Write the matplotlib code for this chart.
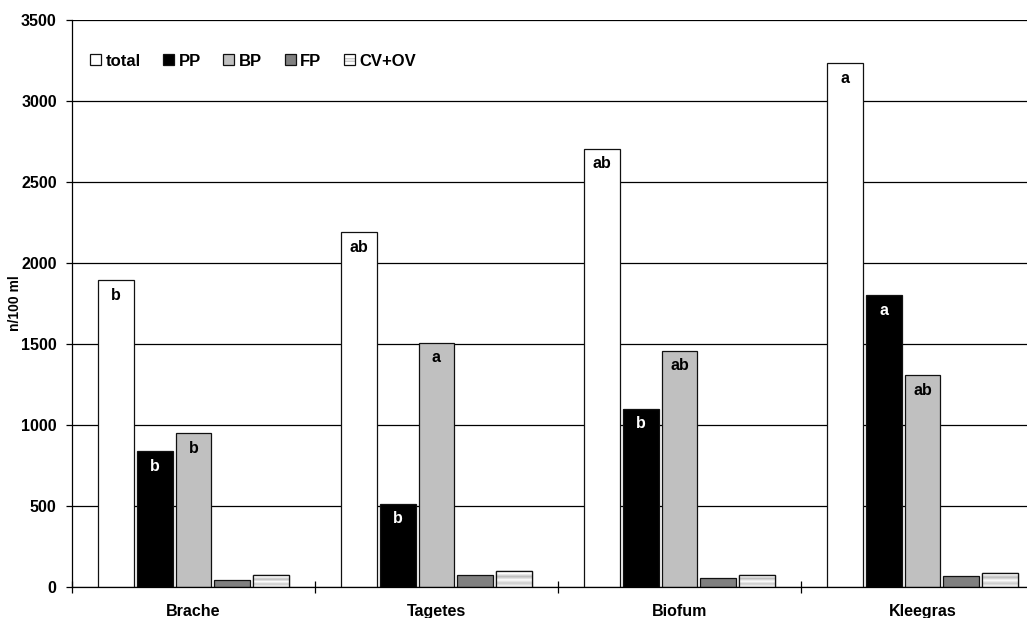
import numpy as np
import matplotlib
matplotlib.use("Agg")
import matplotlib.pyplot as plt
from matplotlib.patches import Rectangle
from matplotlib.legend_handler import HandlerBase

plt.rcParams['font.family'] = ['Liberation Sans', 'DejaVu Sans']
plt.rcParams['font.weight'] = 'bold'

categories = ["Brache", "Tagetes", "Biofum", "Kleegras"]
series_names = ["total", "PP", "BP", "FP", "CV+OV"]
total = [1893, 2189, 2705, 3235]
pp = [840, 514, 1101, 1800]
bp = [950, 1508, 1459, 1307]
fp = [41, 72, 54, 66]
cv_ov = [72, 97, 76, 88]
labels_total = ["b", "ab", "ab", "a"]
labels_pp = ["b", "b", "b", "a"]
labels_bp = ["b", "a", "ab", "ab"]
yticks = [0, 500, 1000, 1500, 2000, 2500, 3000, 3500]

W, H = 1027, 618
fig = plt.figure(figsize=(W / 100, H / 100), dpi=100)
ax = fig.add_axes([72 / W, 1 - 587 / H, 972 / W, 567 / H])

pitch = 0.159
width = 0.146
colors = ["white", "black", "#C0C0C0", "#808080", "white"]
data = [total, pp, bp, fp, cv_ov]
x = np.arange(len(categories)) + 0.5

# gradient profile for CV+OV (bottom -> top)
prof = np.array([0.97, 0.88, 0.80, 0.90, 1.0, 0.86, 0.74, 0.86, 1.0, 0.95])
grad = np.repeat(prof[:, None], 2, axis=1)

ax.set_axisbelow(True)
for k, (vals, col) in enumerate(zip(data, colors)):
    xs = x + (k - 2) * pitch
    bars = ax.bar(xs, vals, width=width, color=col, edgecolor="#111111",
                  linewidth=0.9, zorder=2, label=series_names[k])
    if k == 4:
        for b in bars:
            im = ax.imshow(grad, cmap="gray", vmin=0, vmax=1, origin="lower",
                           extent=[b.get_x(), b.get_x() + b.get_width(), 0, b.get_height()],
                           aspect="auto", interpolation="bilinear", zorder=2.5)
            im.set_clip_path(b)
            edge = Rectangle((b.get_x(), 0), b.get_width(), b.get_height(),
                             fill=False, edgecolor="#111111", linewidth=0.9, zorder=3)
            ax.add_patch(edge)

def put_labels(vals, labs, k, color):
    xs = x + (k - 2) * pitch
    for xi, v, t in zip(xs, vals, labs):
        ax.annotate(t, (xi, v), xytext=(0, -5.5), textcoords="offset points",
                    ha="center", va="top", fontsize=11.5, fontweight="bold",
                    color=color, zorder=4)

put_labels(total, labels_total, 0, "black")
put_labels(pp, labels_pp, 1, "white")
put_labels(bp, labels_bp, 2, "black")

ax.set_xlim(0, 4)
ax.set_ylim(0, 3500)
ax.set_yticks(yticks)
ax.yaxis.grid(True, color="black", linewidth=0.9)
ax.tick_params(axis="y", direction="out", length=4, width=0.9, pad=7, labelsize=11.5)
ax.set_xticks([0, 1, 2, 3])
ax.set_xticklabels([])
ax.set_xticks(x, minor=True)
ax.set_xticklabels(categories, minor=True, fontsize=11.5, fontweight="bold")
ax.tick_params(axis="x", which="major", direction="inout", length=8, width=0.9)
ax.tick_params(axis="x", which="minor", length=0, pad=12.5)
for lab in ax.get_yticklabels():
    lab.set_fontweight("bold")
for s in ["top", "right"]:
    ax.spines[s].set_visible(False)
for s in ["left", "bottom"]:
    ax.spines[s].set_linewidth(0.9)
ax.set_ylabel("n/100 ml", fontsize=10, fontweight="bold")
ax.yaxis.set_label_coords(-50 / 972, (587 - 303) / 567)


class GradHandler(HandlerBase):
    def create_artists(self, legend, orig_handle, xdescent, ydescent, width, height, fontsize, trans):
        arts = []
        base = Rectangle((-xdescent, -ydescent), width, height, facecolor="white",
                         edgecolor="none", transform=trans)
        arts.append(base)
        band = Rectangle((-xdescent, -ydescent + height * 0.3), width, height * 0.35,
                         facecolor="#C8C8C8", edgecolor="none", transform=trans)
        arts.append(band)
        band2 = Rectangle((-xdescent, -ydescent + height * 0.42), width, height * 0.12,
                          facecolor="#E8E8E8", edgecolor="none", transform=trans)
        arts.append(band2)
        frame = Rectangle((-xdescent, -ydescent), width, height, fill=False,
                          edgecolor="#111111", linewidth=0.9, transform=trans)
        arts.append(frame)
        return arts

handles, labs = ax.get_legend_handles_labels()
leg = ax.legend(handles, labs, ncol=5, loc="center left",
                bbox_to_anchor=(18 / 972, (587 - 61) / 567), frameon=False,
                handlelength=0.66, handleheight=0.66, handletextpad=0.27,
                columnspacing=1.35, prop={"weight": "bold", "size": 12},
                borderaxespad=0, borderpad=0, handler_map={handles[4]: GradHandler()})

fig.savefig("out.png", dpi=100)
